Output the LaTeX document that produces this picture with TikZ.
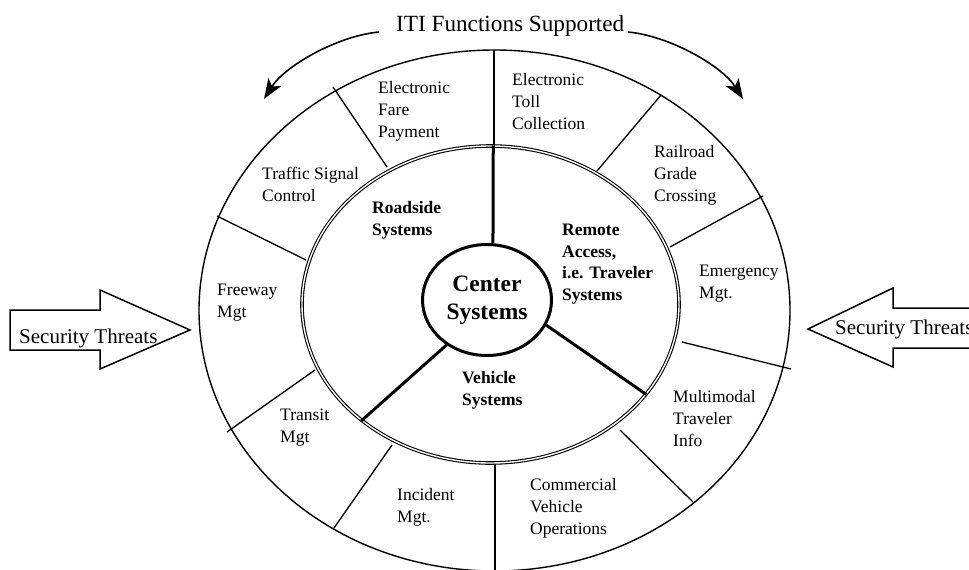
\documentclass[tikz,border=0pt]{standalone}
\usepackage{fontspec}
\setmainfont{Liberation Serif}
\usetikzlibrary{shapes.geometric,arrows.meta}
\begin{document}
\begin{tikzpicture}[x=1pt,y=-1pt,
  ring/.style={line width=1.4pt},
  divider/.style={line width=1.3pt},
  spoke/.style={line width=3pt},
  lbl/.style={anchor=west, align=left, inner sep=0pt, font=\fontsize{17.5}{22}\selectfont},
  sys/.style={anchor=west, align=left, inner sep=0pt, font=\fontsize{17.5}{21.5}\selectfont\bfseries},
  threat/.style={line width=1.5pt, fill=white, line join=miter},
  threattext/.style={anchor=base west, inner sep=0pt, font=\fontsize{21}{24}\selectfont},
  curvedarrow/.style={line width=1.6pt, -{Stealth[length=20pt,width=15pt,inset=5pt]}}
]
\useasboundingbox (0,0) rectangle (969,570);
\clip (0,0) rectangle (969,570);

% outer ring of supported functions
\node[ellipse, draw, ring, minimum width=591pt, minimum height=521pt, inner sep=0pt] (outer) at (494.5,310.5) {};

% dividers between the function sectors
\draw[divider] (494,50) -- (494,146);
\draw[divider] (333,87) -- (387,167);
\draw[divider] (217,216) -- (306,260);
\draw[divider] (315,370) -- (227,432);
\draw[divider] (392,445) -- (334,528);
\draw[divider] (495,465) -- (495,572);
\draw[divider] (620,430) -- (693,502);
\draw[divider] (682,342) -- (791,369);
\draw[divider] (670,247) -- (763,196);
\draw[divider] (661,95) -- (597,171);

% system ring and centre
\node[ellipse, draw, line width=1.1pt, double, double distance=1.4pt, minimum width=377pt, minimum height=317pt, inner sep=0pt] (inner) at (490.5,304.5) {};
\node[ellipse, draw, line width=3pt, fill=white, minimum width=129pt, minimum height=111pt, inner sep=0pt, align=center, font=\fontsize{23.5}{28}\selectfont\bfseries] (center) at (487,300) {Center\\Systems};

\draw[spoke] (center.84) -- (inner.89);
\draw[spoke] (center.228) -- (inner.222);
\draw[spoke] (center.337) -- (inner.330);

% system labels
\node[sys] (roadside) at (372,220.5) {Roadside\\Systems};
\node[sys] (remote) at (562,264) {Remote\\Access,\\i.e. Traveler\\Systems};
\node[sys] (vehicle) at (462,390.5) {Vehicle\\Systems};

% function labels
\node[lbl] (fare) at (378,111.5) {Electronic\\Fare\\Payment};
\node[lbl] (toll) at (512,102) {Electronic\\Toll\\Collection};
\node[lbl] (rail) at (654,175.5) {Railroad\\Grade\\Crossing};
\node[lbl] (emerg) at (699,283.5) {Emergency\\Mgt.};
\node[lbl] (multi) at (673,418.5) {Multimodal\\Traveler\\Info};
\node[lbl] (cvo) at (530,508) {Commercial\\Vehicle\\Operations};
\node[lbl] (incident) at (397,507.5) {Incident\\Mgt.};
\node[lbl] (transit) at (280,428) {Transit\\Mgt};
\node[lbl] (freeway) at (217,303) {Freeway\\Mgt};
\node[lbl] (signal) at (262,184) {Traffic Signal\\Control};

% title with curved arrows
\node[anchor=base west, inner sep=0pt, font=\fontsize{23.2}{27}\selectfont] (title) at (396,31) {ITI Functions Supported};
\coordinate (ltip) at (264,99);
\coordinate (rtip) at (743,99);
\draw[curvedarrow] (379,32) .. controls (337,36) and (285,66) .. (ltip);
\draw[curvedarrow] (628,32) .. controls (670,36) and (722,66) .. (rtip);

% incoming threats
\draw[threat] (10,310) -- (100,310) -- (100,290) -- (190,330) -- (100,369) -- (100,350) -- (10,350) -- cycle;
\node[threattext] (threatL) at (19,343) {Security Threats};
\draw[threat] (1000,308) -- (893,308) -- (893,288) -- (808,329) -- (893,367) -- (893,348) -- (1000,348) -- cycle;
\node[threattext] (threatR) at (835,334) {Security Threats};
\end{tikzpicture}
\end{document}
